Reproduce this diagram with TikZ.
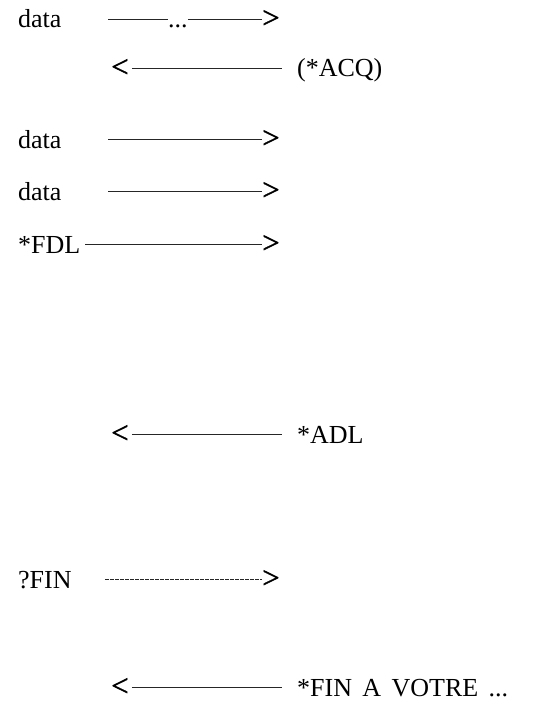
\documentclass[tikz,border=0pt]{standalone}
\usepackage{fontspec}
\setmainfont{Liberation Serif}
\newfontfamily\tipfont[FakeBold=1.2]{Liberation Serif}
\begin{document}
\begin{tikzpicture}[x=1pt,y=-1pt,
  every node/.style={inner sep=0pt, font=\fontsize{26}{30}\selectfont},
  lbl/.style={anchor=base west},
  tipglyph/.style={anchor=base west, font=\tipfont\fontsize{31}{32}\selectfont},
  wire/.style={line width=1.2pt, black!85},
  dwire/.style={line width=1.2pt, black!85, dash pattern=on 4pt off 1pt}]
\useasboundingbox (0,0) rectangle (539,717);

% data ---...---> (outgoing frame, elided)
\node[lbl] (d1) at (18,28) {data};
\node[lbl] (dots) at (168,28) {...};
\node[tipglyph] (t1) at (262,28) {>};
\path (t1.west) ++(-154,0) coordinate (s1);
\draw[wire] (s1) -- (s1 -| dots.west);
\draw[wire] (dots.east |- s1) -- (t1.west);

% <--------- (*ACQ)
\node[tipglyph] (t2) at (111,77) {<};
\path (t2.east) ++(3,0) coordinate (b2) ++(150,0) coordinate (e2);
\node[lbl] (acq) at (297,77) {(*ACQ)};
\draw[wire] (b2) -- (e2);

% data --------->
\node[lbl] (d3) at (18,148) {data};
\node[tipglyph] (t3) at (262,148) {>};
\path (t3.west) ++(-154,0) coordinate (s3);
\draw[wire] (s3) -- (t3.west);

% data --------->
\node[lbl] (d4) at (18,200) {data};
\node[tipglyph] (t4) at (262,200) {>};
\path (t4.west) ++(-154,0) coordinate (s4);
\draw[wire] (s4) -- (t4.west);

% *FDL --------->
\node[lbl] (fdl) at (18,253) {*FDL};
\node[tipglyph] (t5) at (262,253) {>};
\path (t5.west) ++(-177,0) coordinate (s5);
\draw[wire] (s5) -- (t5.west);

% <--------- *ADL
\node[tipglyph] (t6) at (111,443) {<};
\path (t6.east) ++(3,0) coordinate (b6) ++(150,0) coordinate (e6);
\node[lbl] (adl) at (297,443) {*ADL};
\draw[wire] (b6) -- (e6);

% ?FIN --------->
\node[lbl] (qfin) at (18,588) {?FIN};
\node[tipglyph] (t7) at (262,588) {>};
\path (t7.west) ++(-157,0) coordinate (s7);
\draw[dwire] (s7) -- (t7.west);

% <--------- *FIN A VOTRE ...
\node[tipglyph] (t8) at (111,696) {<};
\path (t8.east) ++(3,0) coordinate (b8) ++(150,0) coordinate (e8);
\node[lbl] (fin) at (297,696) {*FIN\hspace{0.4em}A\hspace{0.4em}VOTRE\hspace{0.4em}...};
\draw[wire] (b8) -- (e8);
\end{tikzpicture}
\end{document}
